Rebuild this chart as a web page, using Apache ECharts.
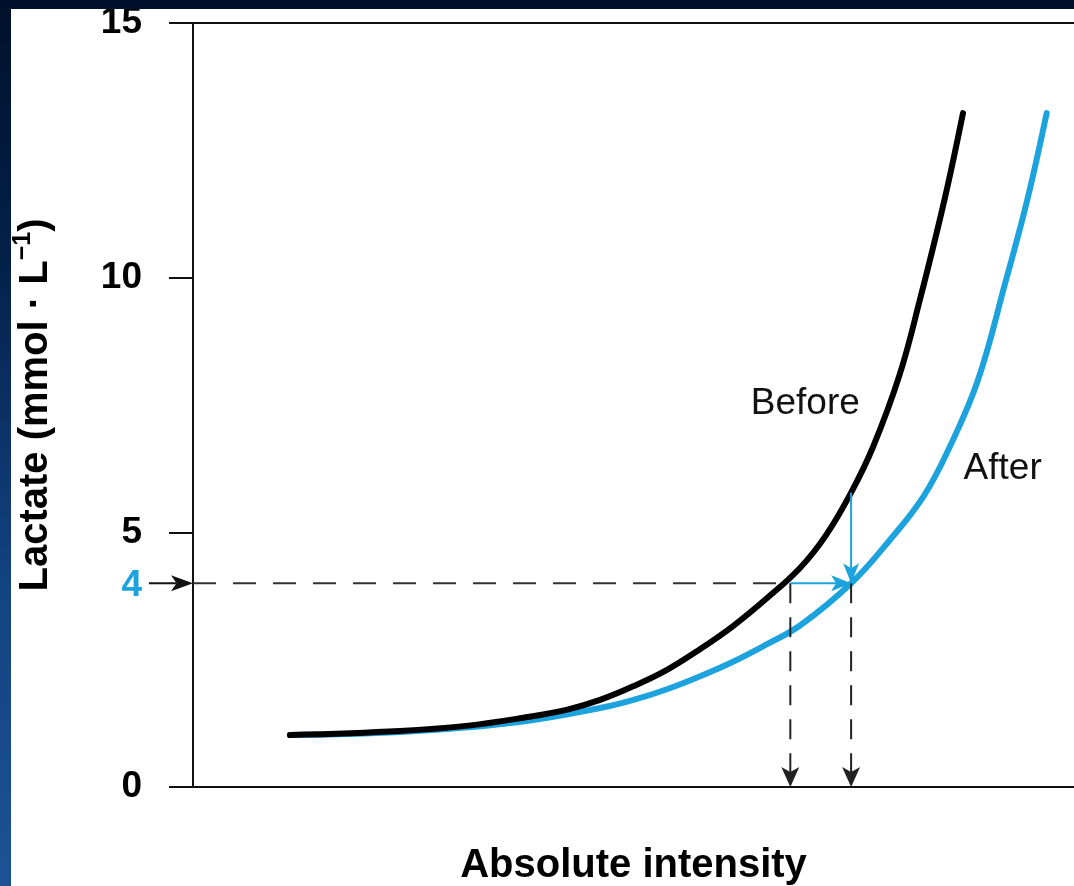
<!DOCTYPE html>
<html>
<head>
<meta charset="utf-8">
<script src="https://cdn.jsdelivr.net/npm/echarts@6/dist/echarts.min.js"></script>
<style>
  html, body { margin: 0; padding: 0; width: 1074px; height: 886px; overflow: hidden; }
  body { position: relative; background: linear-gradient(180deg, #00112a 0%, #04214a 30%, #134281 65%, #1c5295 100%); }
  #chart { position: absolute; left: 11px; top: 9px; width: 1063px; height: 877px; background: #fff; }
</style>
</head>
<body>
<div id="chart"></div>
<script>
// intensity is in arbitrary units (the x axis has no scale), lactate in mmol/L
const beforeX = [11.0, 23.5, 31.0, 37.5, 42.5, 46.2, 50.0, 53.8, 57.5, 61.3, 65.1, 68.9, 71.8, 74.7, 77.2, 80.2, 82.5, 85.3, 87.4];
const beforeY = [1.02, 1.10, 1.20, 1.36, 1.52, 1.71, 1.98, 2.30, 2.70, 3.16, 3.70, 4.30, 4.93, 5.78, 6.68, 8.09, 9.56, 11.53, 13.23];
const afterX = [11.0, 23.5, 36.3, 46.2, 50.0, 53.8, 57.5, 61.3, 65.1, 68.9, 74.7, 79.1, 82.9, 85.9, 89.1, 92.2, 94.7, 96.9];
const afterY = [1.02, 1.08, 1.26, 1.55, 1.71, 1.92, 2.17, 2.46, 2.80, 3.17, 4.0, 4.85, 5.70, 6.68, 7.99, 9.9, 11.53, 13.23];

const yLabels = [0, 4, 5, 10, 15];
const thresholdValue = 4;

// annotation segments: [x1, y1, x2, y2]
const dashedGuides = [[0, 4, 67.8, 4]];
const dashedDrops = [[67.8, 4, 67.8, 0], [74.7, 4, 74.7, 0]];
const shiftArrows = [[67.8, 4, 74.7, 4], [74.7, 5.78, 74.7, 4]];
const pointerArrow = [[-5, 4, 0, 4]];

const curveNames = ['Before', 'After'];
const curveLabelAt = [[69.5, 7.52], [91.9, 6.24]];

const BLUE = '#1ca3dd';
const FONT = '"Liberation Sans", Arial, Helvetica, sans-serif';

const chart = echarts.init(document.getElementById('chart'), null, { renderer: 'canvas' });

function toPairs(xs, ys) {
  return xs.map((x, i) => [x, ys[i]]);
}

// draws straight segments, optionally with a notched arrow head at the end
function segmentSeries(data, color, width, dash, head) {
  return {
    type: 'custom',
    coordinateSystem: 'cartesian2d',
    silent: true,
    clip: false,
    z: 5,
    encode: { x: [0, 2], y: [1, 3] },
    data: data,
    renderItem: function (params, api) {
      const p1 = api.coord([api.value(0), api.value(1)]);
      const p2 = api.coord([api.value(2), api.value(3)]);
      const dx = p2[0] - p1[0];
      const dy = p2[1] - p1[1];
      const len = Math.sqrt(dx * dx + dy * dy) || 1;
      const ux = dx / len, uy = dy / len;
      const children = [];
      let end = p2;
      let headShape = null;
      if (head) {
        const hl = head[0], hw = head[1];
        const notch = [p2[0] - ux * hl * 0.75, p2[1] - uy * hl * 0.75];
        const bx = p2[0] - ux * hl, by = p2[1] - uy * hl;
        end = notch;
        headShape = {
          type: 'polygon',
          shape: { points: [p2, [bx - uy * hw / 2, by + ux * hw / 2], notch, [bx + uy * hw / 2, by - ux * hw / 2]] },
          style: { fill: color }
        };
      }
      children.push({
        type: 'line',
        shape: { x1: p1[0], y1: p1[1], x2: end[0], y2: end[1] },
        style: { stroke: color, lineWidth: width, lineDash: dash }
      });
      if (headShape) children.push(headShape);
      return { type: 'group', children: children };
    }
  };
}

const plainAxis = {
  type: 'value',
  min: 0,
  max: 100,
  axisLine: { show: true, onZero: false, lineStyle: { color: '#111', width: 2 } },
  axisTick: { show: false },
  axisLabel: { show: false },
  splitLine: { show: false }
};

const option = {
  backgroundColor: '#fff',
  animation: false,
  grid: { left: 182, right: 0, top: 14, bottom: 99, containLabel: false, outerBoundsMode: 'none' },
  xAxis: [
    Object.assign({}, plainAxis, {
      position: 'bottom',
      name: 'Absolute intensity',
      nameLocation: 'middle',
      nameGap: 59,
      nameTextStyle: { fontFamily: FONT, fontSize: 40, fontWeight: 'bold', color: '#000', lineHeight: 40 }
    }),
    Object.assign({}, plainAxis, { position: 'top' })
  ],
  yAxis: {
    type: 'value',
    min: 0,
    max: 15,
    interval: 5,
    axisLine: { show: true, onZero: false, lineStyle: { color: '#111', width: 2 } },
    axisTick: { show: true, length: 24, lineStyle: { color: '#111', width: 2 } },
    axisLabel: {
      customValues: yLabels,
      margin: 51,
      fontFamily: FONT,
      fontSize: 37,
      fontWeight: 'bold',
      color: '#000',
      formatter: v => (v === thresholdValue ? '{hi|' + v + '}' : String(v)),
      rich: { hi: { fontFamily: FONT, fontSize: 37, fontWeight: 'bold', color: BLUE, padding: [6, 0, 0, 0] } }
    },
    splitLine: { show: false },
    name: '{m|Lactate (mmol · L}{s|\u22121}{m|)}',
    nameLocation: 'middle',
    nameGap: 132,
    nameTextStyle: {
      rich: {
        m: { fontFamily: FONT, fontSize: 40, fontWeight: 'bold', color: '#000', lineHeight: 50 },
        s: { fontFamily: FONT, fontSize: 25, fontWeight: 'bold', color: '#000', lineHeight: 25, verticalAlign: 'top' }
      }
    }
  },
  series: [
    {
      name: 'After',
      type: 'line',
      data: toPairs(afterX, afterY),
      smooth: 0.4,
      showSymbol: false,
      silent: true,
      z: 3,
      lineStyle: { color: BLUE, width: 6, cap: 'round' },
      markPoint: {
        symbol: 'circle',
        symbolSize: 0,
        silent: true,
        label: { show: true, position: 'inside', formatter: '{b}', fontFamily: FONT, fontSize: 37, color: '#111' },
        data: [{ name: curveNames[1], coord: curveLabelAt[1] }]
      }
    },
    {
      name: 'Before',
      type: 'line',
      data: toPairs(beforeX, beforeY),
      smooth: 0.4,
      showSymbol: false,
      silent: true,
      z: 4,
      lineStyle: { color: '#000', width: 6, cap: 'round' },
      markPoint: {
        symbol: 'circle',
        symbolSize: 0,
        silent: true,
        label: { show: true, position: 'inside', formatter: '{b}', fontFamily: FONT, fontSize: 37, color: '#111' },
        data: [{ name: curveNames[0], coord: curveLabelAt[0] }]
      }
    },
    segmentSeries(dashedGuides, '#333', 2, [23, 17], null),
    segmentSeries(dashedDrops, '#222', 2, [20, 14], [20, 18]),
    segmentSeries(shiftArrows, BLUE, 2, null, [20, 16]),
    segmentSeries(pointerArrow, '#111', 2, null, [22, 16])
  ]
};

chart.setOption(option);
window.addEventListener('resize', () => chart.resize());
</script>
</body>
</html>
